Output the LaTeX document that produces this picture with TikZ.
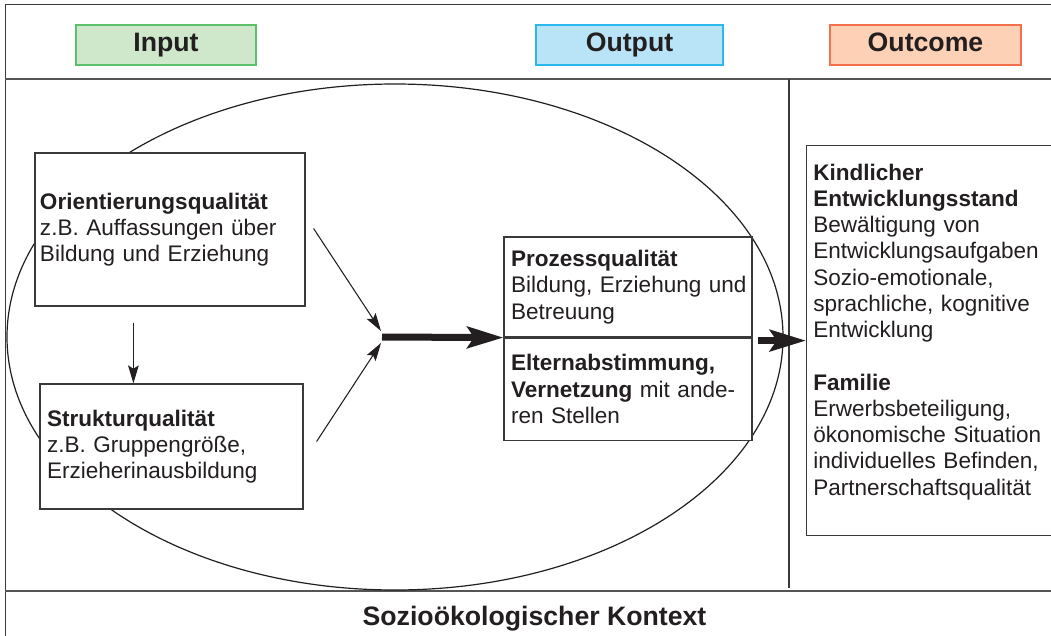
\documentclass[tikz,border=0pt]{standalone}
\usepackage{fontspec}
\setmainfont{Liberation Sans}
\usetikzlibrary{arrows.meta,calc}
\definecolor{txt}{HTML}{231F20}
\definecolor{ln}{HTML}{3A3A3A}
\definecolor{sep}{HTML}{555555}
\definecolor{ingreen}{HTML}{CFE7CB}
\definecolor{ingreenb}{HTML}{5CC06A}
\definecolor{outblue}{HTML}{B9E4F8}
\definecolor{outblueb}{HTML}{2BB9ED}
\definecolor{ocorange}{HTML}{FCD1B6}
\definecolor{ocorangeb}{HTML}{F4704C}
\tikzset{
  hdr/.style={draw, line width=1.1pt, minimum height=30pt, inner sep=0pt,
    font=\fontsize{20}{24}\selectfont\bfseries, text=txt, text height=15pt, text depth=5pt},
  body/.style={font=\fontsize{16.9}{19.7}\selectfont, text=txt},
  qbox/.style={body, draw=ln, fill=white, line width=0.9pt, align=left, inner ysep=0pt},
  thinarrow/.style={draw=txt, line width=0.8pt, -{Stealth[length=13.5pt, width=8pt, inset=2.5pt]}},
  thickarrow/.style={draw=txt, line width=5.25pt, -{Stealth[length=27pt, width=16pt, inset=5pt]}},
}
\begin{document}
\begin{tikzpicture}[x=0.75pt,y=-0.75pt]
\clip (0,0) rectangle (1051,636);
% frame
\draw[line width=1.3pt, draw=ln] (5.5,4.5) rectangle (1080,660);
\draw[line width=1.6pt, draw=sep] (5,79) -- (1060,79);
\draw[line width=1.6pt, draw=sep] (5,591) -- (1060,591);
\draw[line width=0.8pt, draw=ln] (789,79) -- (789,588);
% header
\node[hdr, draw=ingreenb, fill=ingreen, minimum width=135pt] (inp) at (166,45) {Input};
\node[hdr, draw=outblueb, fill=outblue, minimum width=140.25pt] (outp) at (629.5,45) {Output};
\node[hdr, draw=ocorangeb, fill=ocorange, minimum width=143.25pt] (outc-h) at (925.5,45) {Outcome};
% ellipse
\draw[line width=0.9pt, draw=txt] (395,337) ellipse [x radius=388, y radius=253];
% input boxes
\node[qbox, inner xsep=3.75pt, minimum width=202.5pt, minimum height=114.75pt, text width=195pt]
  (orient) at (170,229.5)
  {\textbf{Orientierungsqualität}\\z.B.~Auffassungen~über\\Bildung~und~Erziehung};
\node[qbox, inner xsep=5.25pt, minimum width=197.25pt, minimum height=93.75pt, text width=186.75pt]
  (struct) at (171.5,446.5)
  {\textbf{Strukturqualität}\\z.B.~Gruppengröße,\\Erzieherinausbildung};
% output box
\node[qbox, inner xsep=5.25pt, minimum width=186pt, minimum height=75pt, text width=175.5pt]
  (proc) at (628,287)
  {\textbf{Prozessqualität}\\Bildung,~Erziehung~und\\Betreuung};
\node[qbox, inner xsep=5.25pt, minimum width=186pt, minimum height=76.5pt, text width=175.5pt, anchor=north]
  (netz) at (proc.south)
  {\textbf{Elternabstimmung,}\\\textbf{Vernetzung}~mit~ande-\\ren~Stellen};
% outcome box
\node[draw=ln, fill=white, line width=0.9pt, minimum width=195pt, minimum height=292.5pt, anchor=north west, inner sep=0pt]
  (outc) at (806,145) {};
\node[body, align=left, text width=175pt, inner sep=0pt, anchor=base west] (outctext) at (813,180)
  {\textbf{Kindlicher}\\\textbf{Entwicklungsstand}\\Bewältigung~von\\Entwicklungsaufgaben\\Sozio-emotionale,\\sprachliche,~kognitive\\Entwicklung\\[19.7pt]
   \textbf{Familie}\\Erwerbsbeteiligung,\\ökonomische~Situation\\individuelles~Befinden,\\Partnerschaftsqualität};
% context
\node[font=\fontsize{20}{24}\selectfont\bfseries, text=txt, anchor=base, inner sep=0pt] (ctx) at (534.5,625) {Sozioökologischer Kontext};
% connectors
\coordinate (jn) at (382,337);
\draw[thinarrow] ($(orient.south west)+(99,16)$) -- ($(struct.north west)+(94,0)$);
\draw[thinarrow] ($(orient.east)+(8,-1)$) -- ($(jn)+(-1,-6)$);
\draw[thinarrow] ($(struct.east)+(13,-5)$) -- ($(jn)+(-1,6)$);
\draw[thickarrow] (jn) -- (proc.south west);
\draw[thickarrow] ($(netz.north east)+(5,3)$) -- (outc.west);
\end{tikzpicture}
\end{document}
